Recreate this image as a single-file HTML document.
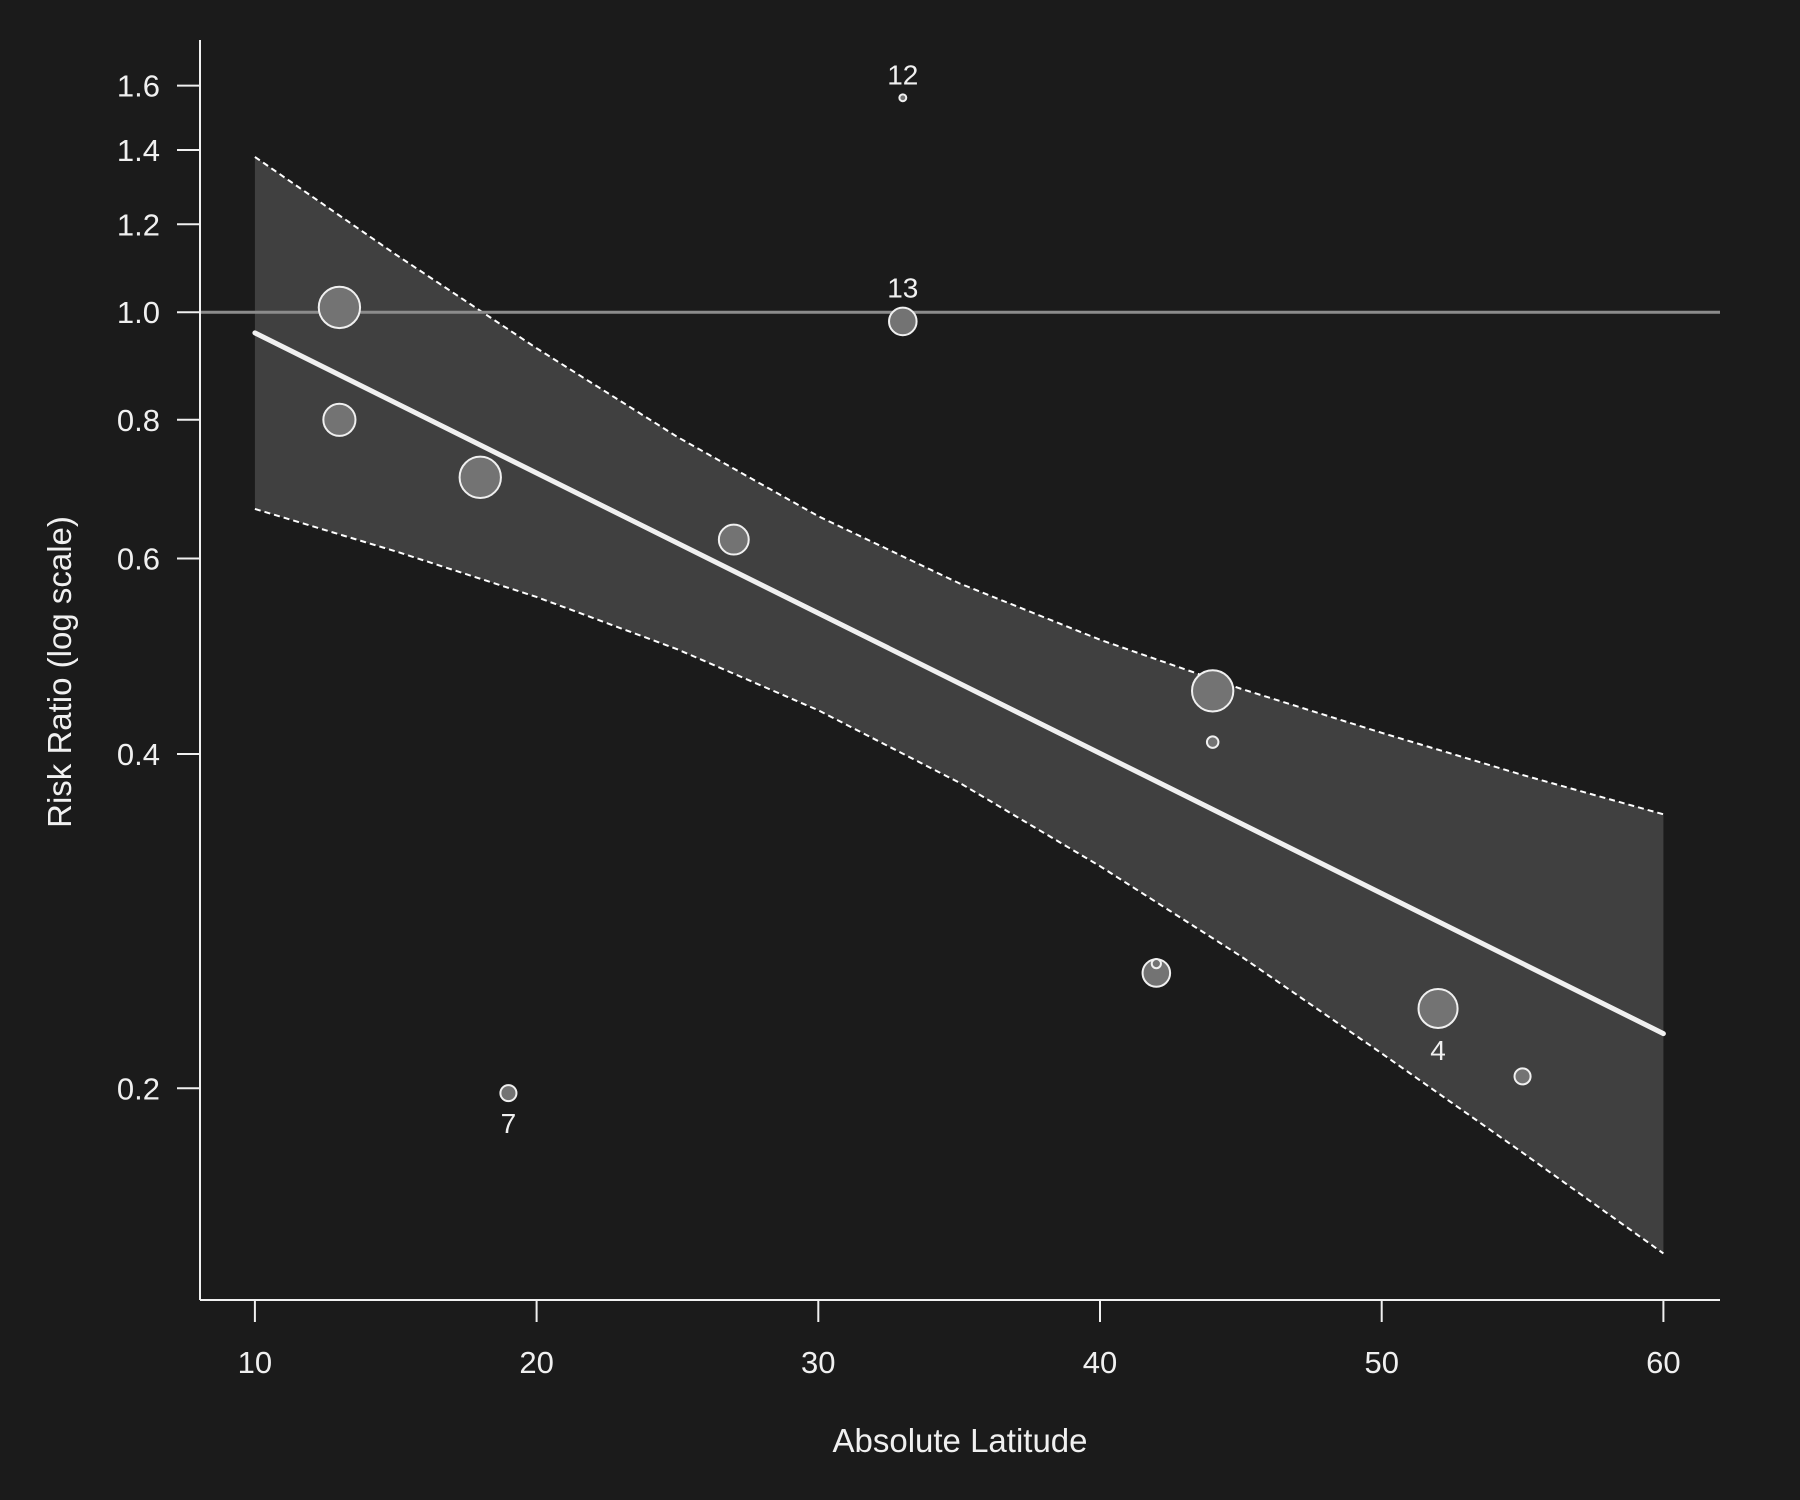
<!DOCTYPE html>
<html><head><meta charset="utf-8"><style>
html,body{margin:0;padding:0;background:#1b1b1b;}
svg{display:block;font-family:"Liberation Sans",sans-serif;}
</style></head><body>
<svg id="chart" width="1800" height="1500" viewBox="0 0 1800 1500">
<rect width="1800" height="1500" fill="#1b1b1b"/>
<g id="plot"></g>
</svg>
<script>
const pointLat=[13,13,18,19,27,33,33,42,42,44,44,52,55];
const pointRR=[1.01,0.80,0.71,0.198,0.624,1.56,0.981,0.254,0.259,0.456,0.41,0.236,0.205];
const pointSize=[18,14,18,7,13,3,12,12,4,18,5,17,7];
const pointLabels=["","","","7","","12","13","","","","","4",""];
const ciLat=[10,15,20,25,30,35,40,45,50,55,60];
const ciUpper=[1.38,1.127,0.928,0.772,0.655,0.570,0.507,0.458,0.418,0.383,0.353];
const ciLower=[0.665,0.609,0.554,0.497,0.438,0.377,0.317,0.263,0.215,0.175,0.142];
const fitLat=[10,60];
const fitRR=[0.958,0.224];
const xTicks=[10,20,30,40,50,60];
const yTicks=[0.2,0.4,0.6,0.8,1.0,1.2,1.4,1.6];
const yTickLabels=["0.2","0.4","0.6","0.8","1.0","1.2","1.4","1.6"];

const NS="http://www.w3.org/2000/svg";
const g=document.getElementById('plot');
const X=v=>254.9+(v-10)*(1663.4-254.9)/50;
const Y=v=>312.2-Math.log(v)*482.2;
function mk(t,a,p){const e=document.createElementNS(NS,t);for(const k in a)e.setAttribute(k,a[k]);(p||g).appendChild(e);return e;}

let d="";
ciLat.forEach((x,i)=>{d+=(i?"L":"M")+X(x)+","+Y(ciUpper[i]);});
for(let i=ciLat.length-1;i>=0;i--)d+="L"+X(ciLat[i])+","+Y(ciLower[i]);
d+="Z";
const band=mk('path',{d:d,fill:'#404040'});


const up=mk('polyline',{points:ciLat.map((x,i)=>X(x)+","+Y(ciUpper[i])).join(" "),fill:'none',stroke:'#fff','stroke-width':2,'stroke-dasharray':'6,4'});


const lo=mk('polyline',{points:ciLat.map((x,i)=>X(x)+","+Y(ciLower[i])).join(" "),fill:'none',stroke:'#fff','stroke-width':2,'stroke-dasharray':'6,4'});



const ref=mk('line',{x1:200,x2:1720,y1:Y(1),y2:Y(1),stroke:'#8c8c8c','stroke-width':3});



const fit=mk('line',{x1:X(fitLat[0]),y1:Y(fitRR[0]),x2:X(fitLat[1]),y2:Y(fitRR[1]),stroke:'#f0f0f0','stroke-width':5,'stroke-linecap':'round'});



pointLat.forEach((x,i)=>{
  const c=mk('circle',{cx:X(x),cy:Y(pointRR[i]),r:pointSize[i]*1.148,fill:'#737373',stroke:'#f0f0f0','stroke-width':2});
  
  
  if(pointLabels[i]){
    const r=pointSize[i]*1.148;
    const above=(pointLabels[i]==="12"||pointLabels[i]==="13");
    const t=mk('text',{x:X(x),y:above?Y(pointRR[i])-r-10:Y(pointRR[i])+r+32,'text-anchor':'middle',fill:'#f0f0f0','font-size':28});
    t.textContent=pointLabels[i];
    
    
  }
});

const ya=mk('line',{x1:200,x2:200,y1:40,y2:1300,stroke:'#f0f0f0','stroke-width':2});


const xa=mk('line',{x1:200,x2:1720,y1:1300,y2:1300,stroke:'#f0f0f0','stroke-width':2});


yTicks.forEach((v,i)=>{
  const tk=mk('line',{x1:177,x2:200,y1:Y(v),y2:Y(v),stroke:'#f0f0f0','stroke-width':2});
  
  
  const t=mk('text',{x:160,y:Y(v)+11,'text-anchor':'end',fill:'#f0f0f0','font-size':31});
  t.textContent=yTickLabels[i];
  
  
});
xTicks.forEach(v=>{
  const tk=mk('line',{x1:X(v),x2:X(v),y1:1300,y2:1322,stroke:'#f0f0f0','stroke-width':2});
  
  
  const t=mk('text',{x:X(v),y:1373,'text-anchor':'middle',fill:'#f0f0f0','font-size':31});
  t.textContent=String(v);
  
  
});
const xt=mk('text',{x:960,y:1452,'text-anchor':'middle',fill:'#f0f0f0','font-size':33});
xt.textContent="Absolute Latitude";


const yt=mk('text',{x:0,y:0,transform:'translate(71,672) rotate(-90)','text-anchor':'middle',fill:'#f0f0f0','font-size':33});
yt.textContent="Risk Ratio (log scale)";


</script>
</body></html>
